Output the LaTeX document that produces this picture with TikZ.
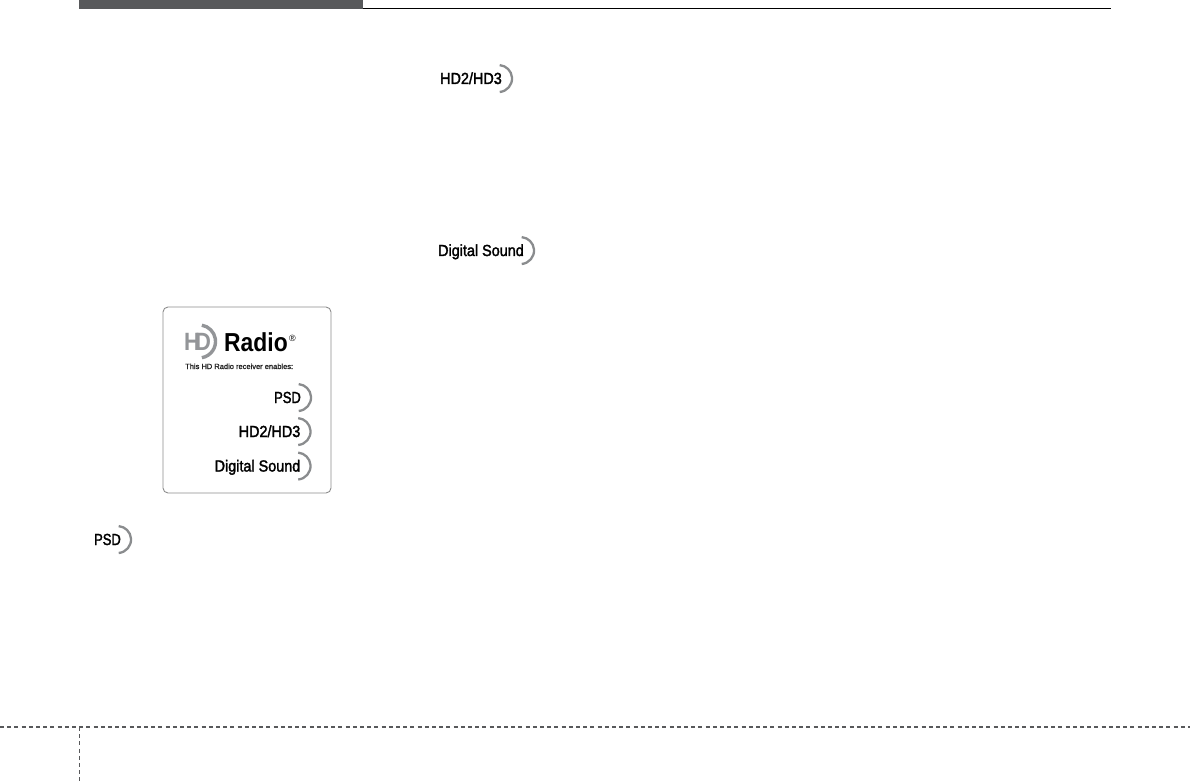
\documentclass[tikz,border=0pt]{standalone}
\usepackage{fontspec}
\setmainfont{Liberation Sans}
\newfontfamily\badgefont{Liberation Sans}[FakeBold=2, FakeStretch=0.9]
\newfontfamily\psdfont{Liberation Sans}[FakeBold=2, FakeStretch=0.81]
\newfontfamily\linefont{Liberation Sans}[FakeBold=1.5]
\newfontfamily\logofont{Liberation Sans}[FakeStretch=0.88]
\definecolor{bargray}{HTML}{58595B}
\definecolor{arcgray}{HTML}{8A8C8E}
\definecolor{logogray}{HTML}{939598}
\tikzset{
	badge/.style={inner sep=0, anchor=base east, font=\badgefont\fontsize{16}{16}\selectfont},
	psdbadge/.style={badge, font=\psdfont\fontsize{16}{16}\selectfont},
	cutline/.style={draw=bargray, dash pattern=on 4pt off 3.2pt},
	logoletter/.style={inner sep=0, anchor=base west, text=logogray, font=\logofont\bfseries\fontsize{25}{25}\selectfont},
}
\newcommand{\badgearc}[1]{
	\draw[arcgray, line width=2.3pt] ([xshift=-2.3pt, yshift=-8pt]#1.base east) arc[start angle=85, end angle=-85, radius=13.5];
}
\begin{document}
\begin{tikzpicture}[x=1pt, y=-1pt]
	\useasboundingbox (0,0) rectangle (1190,783);
	% header
	\fill[bargray] (79,0) rectangle (363,9);
	\draw[line width=.8pt] (363,8.6) -- (1111,8.6);
	% cut marks
	\draw[cutline, line width=1.2pt] (0,727) -- (1190,727);
	\draw[cutline, line width=.7pt] (79.5,727) -- (79.5,783);
	% badges in the text
	\node[badge] (hdtop) at (502,84) {HD2/HD3};
	\node[badge] (soundtop) at (524,256) {Digital Sound};
	\node[psdbadge] (psdlow) at (121,545) {PSD};
	\badgearc{hdtop}
	\badgearc{soundtop}
	\badgearc{psdlow}
	% label
	\draw[draw=black!45, line width=.9pt, rounded corners=5pt] (163,307) rectangle (331,493);
	\node[logoletter] (logoh) at (184,350.5) {H};
	\node[logoletter] (logod) at (195,350.5) {D};
	\draw[logogray, line width=3.4pt] (201.9,357.7) arc[start angle=80, end angle=-80, radius=16.5];
	\node[inner sep=0, anchor=base west, font=\logofont\bfseries\fontsize{26}{26}\selectfont] (logoname) at (224,351) {Radio};
	\node[inner sep=0, anchor=west, font=\fontsize{9}{9}\selectfont] (logoreg) at (289,338.5) {®};
	\node[inner sep=0, anchor=base west, font=\linefont\fontsize{7.5}{8}\selectfont, text=black!85] (logoline) at (185,369) {This HD Radio receiver enables:};
	\node[psdbadge] (psdin) at (301,403) {PSD};
	\node[badge] (hdin) at (300.5,437) {HD2/HD3};
	\node[badge] (soundin) at (300.5,471.5) {Digital Sound};
	\badgearc{psdin}
	\badgearc{hdin}
	\badgearc{soundin}
\end{tikzpicture}
\end{document}
